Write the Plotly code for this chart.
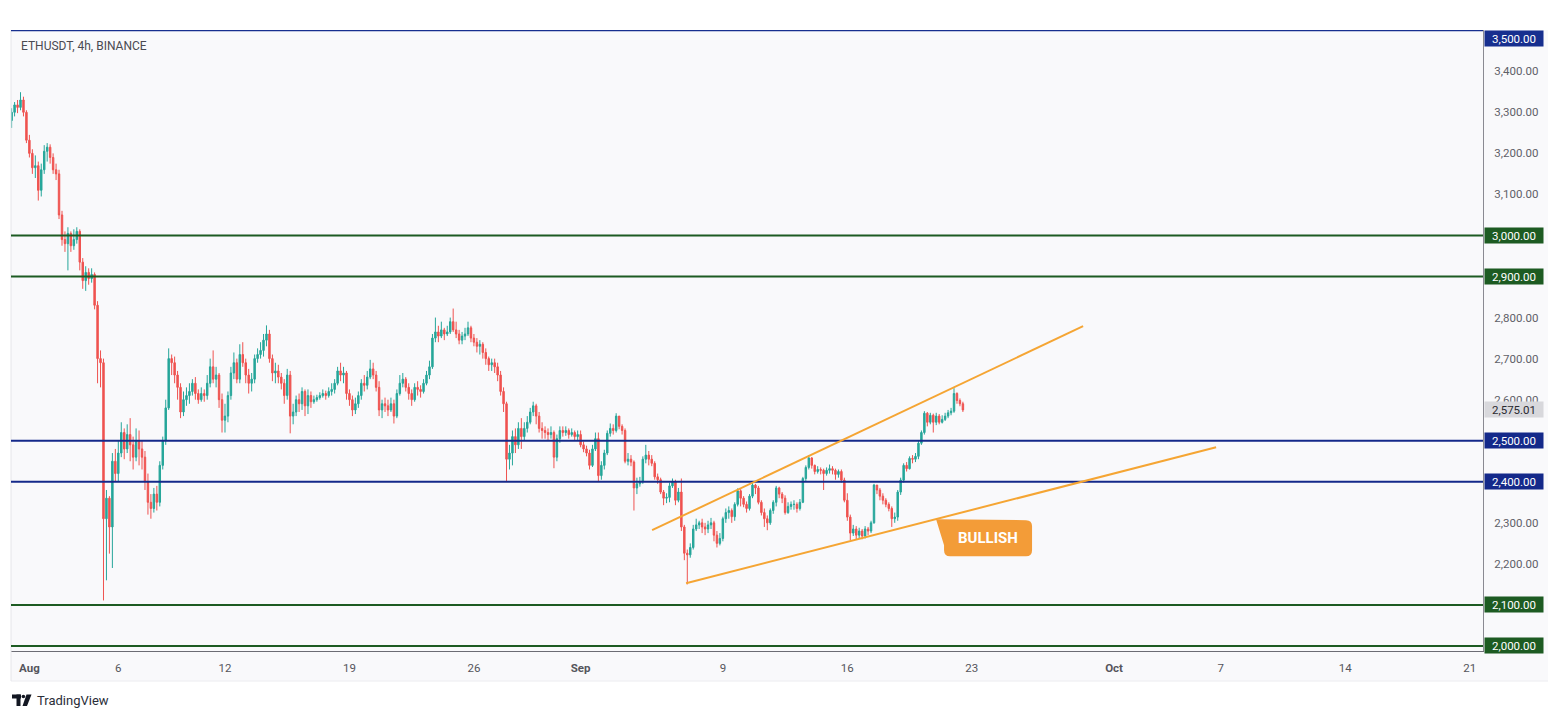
import plotly.graph_objects as go
import pandas as pd

# ---------------- data ----------------
chart_title = "ETHUSDT, 4h, BINANCE"
start_time = "2024-07-31 00:00"   # first 4h candle
first_open = 3280

# 4h closes, one row per day (00,04,08,12,16,20 UTC)
closes = [
    3300, 3318, 3312, 3330, 3300, 3232,   # Jul 31
    3200, 3165, 3170, 3110, 3160, 3205,   # Aug 1
    3215, 3190, 3160, 3150, 3050, 2990,   # Aug 2
    2980, 3005, 2975, 2990, 3010, 2935,   # Aug 3
    2890, 2910, 2895, 2905, 2830, 2700,   # Aug 4
    2690, 2310, 2360, 2290, 2450, 2420,   # Aug 5
    2470, 2520, 2480, 2515, 2490, 2460,   # Aug 6
    2500, 2480, 2460, 2400, 2350, 2335,   # Aug 7
    2370, 2350, 2440, 2500, 2580, 2700,   # Aug 8
    2690, 2660, 2630, 2570, 2600, 2610,   # Aug 9
    2620, 2640, 2615, 2600, 2615, 2610,   # Aug 10
    2640, 2680, 2650, 2660, 2600, 2550,   # Aug 11
    2560, 2610, 2665, 2690, 2650, 2710,   # Aug 12
    2690, 2660, 2640, 2650, 2700, 2710,   # Aug 13
    2720, 2745, 2760, 2700, 2665, 2670,   # Aug 14
    2655, 2640, 2610, 2660, 2560, 2570,   # Aug 15
    2600, 2590, 2620, 2585, 2610, 2595,   # Aug 16
    2600, 2605, 2610, 2615, 2610, 2620,   # Aug 17
    2625, 2640, 2670, 2660, 2665, 2615,   # Aug 18
    2600, 2575, 2590, 2610, 2640, 2635,   # Aug 19
    2655, 2675, 2660, 2630, 2575, 2590,   # Aug 20
    2585, 2575, 2590, 2560, 2615, 2640,   # Aug 21
    2650, 2630, 2615, 2600, 2630, 2625,   # Aug 22
    2620, 2640, 2660, 2680, 2750, 2765,   # Aug 23
    2755, 2770, 2760, 2765, 2790, 2770,   # Aug 24
    2760, 2745, 2755, 2760, 2775, 2750,   # Aug 25
    2740, 2730, 2735, 2715, 2700, 2685,   # Aug 26
    2690, 2680, 2660, 2620, 2590, 2455,   # Aug 27
    2470, 2510, 2490, 2530, 2510, 2530,   # Aug 28
    2545, 2570, 2585, 2560, 2530, 2525,   # Aug 29
    2520, 2515, 2520, 2460, 2505, 2525,   # Aug 30
    2520, 2525, 2515, 2520, 2510, 2515,   # Aug 31
    2490, 2480, 2470, 2440, 2480, 2505,   # Sep 1
    2415, 2440, 2470, 2518, 2530, 2525,   # Sep 2
    2560, 2535, 2525, 2450, 2455, 2448,   # Sep 3
    2385, 2395, 2400, 2455, 2465, 2455,   # Sep 4
    2445, 2412, 2405, 2375, 2360, 2362,   # Sep 5
    2390, 2400, 2355, 2375, 2290, 2226,   # Sep 6
    2222, 2240, 2285, 2295, 2300, 2290,   # Sep 7
    2285, 2295, 2300, 2270, 2250, 2262,   # Sep 8
    2310, 2325, 2330, 2315, 2345, 2378,   # Sep 9
    2360, 2345, 2335, 2365, 2392, 2385,   # Sep 10
    2350, 2325, 2310, 2300, 2330, 2350,   # Sep 11
    2385, 2370, 2360, 2325, 2340, 2345,   # Sep 12
    2345, 2335, 2350, 2408, 2435, 2458,   # Sep 13
    2440, 2425, 2430, 2428, 2420, 2428,   # Sep 14
    2432, 2428, 2418, 2425, 2404, 2355,   # Sep 15
    2314, 2275, 2285, 2270, 2280, 2268,   # Sep 16
    2285, 2280, 2300, 2392, 2380, 2365,   # Sep 17
    2355, 2345, 2335, 2310, 2314, 2375,   # Sep 18
    2404, 2440, 2432, 2457, 2455, 2462,   # Sep 19
    2494, 2520, 2567, 2545, 2562, 2545,   # Sep 20
    2560, 2545, 2552, 2560, 2568, 2572,   # Sep 21
    2615, 2598, 2590, 2575.01,            # Sep 22
]

highs = [
    3310, 3325, 3330, 3349, 3338, 3305,
    3245, 3210, 3195, 3180, 3175, 3220,
    3225, 3222, 3200, 3175, 3160, 3060,
    3010, 3020, 3010, 3015, 3020, 3015,
    2945, 2925, 2920, 2920, 2910, 2840,
    2720, 2700, 2380, 2365, 2470, 2480,
    2500, 2545, 2530, 2540, 2555, 2510,
    2530, 2525, 2500, 2475, 2420, 2370,
    2385, 2390, 2450, 2510, 2600, 2725,
    2710, 2705, 2670, 2640, 2620, 2630,
    2640, 2650, 2655, 2625, 2630, 2625,
    2660, 2700, 2720, 2680, 2665, 2615,
    2590, 2620, 2680, 2715, 2700, 2735,
    2740, 2700, 2675, 2665, 2710, 2725,
    2740, 2760, 2781, 2770, 2710, 2690,
    2685, 2665, 2650, 2675, 2670, 2590,
    2610, 2615, 2630, 2625, 2625, 2620,
    2610, 2612, 2618, 2625, 2622, 2630,
    2640, 2650, 2680, 2690, 2680, 2670,
    2625, 2610, 2605, 2620, 2650, 2660,
    2670, 2697, 2690, 2670, 2645, 2600,
    2605, 2600, 2605, 2600, 2625, 2660,
    2665, 2655, 2640, 2625, 2640, 2645,
    2635, 2650, 2670, 2695, 2760, 2800,
    2780, 2790, 2775, 2780, 2800, 2822,
    2790, 2770, 2765, 2775, 2790, 2780,
    2760, 2750, 2745, 2740, 2725, 2705,
    2700, 2700, 2690, 2670, 2630, 2595,
    2490, 2525, 2530, 2545, 2555, 2545,
    2560, 2580, 2595, 2590, 2570, 2545,
    2535, 2530, 2535, 2525, 2515, 2535,
    2535, 2535, 2530, 2530, 2525, 2525,
    2525, 2498, 2488, 2478, 2490, 2520,
    2520, 2450, 2478, 2525, 2542, 2540,
    2567, 2560, 2540, 2530, 2470, 2465,
    2452, 2410, 2412, 2462, 2490, 2475,
    2465, 2450, 2420, 2410, 2380, 2372,
    2398, 2408, 2405, 2385, 2408, 2295,
    2235, 2250, 2295, 2310, 2305, 2310,
    2300, 2305, 2312, 2305, 2280, 2275,
    2315, 2335, 2340, 2335, 2350, 2384,
    2382, 2365, 2352, 2370, 2400, 2395,
    2390, 2355, 2335, 2318, 2335, 2355,
    2390, 2388, 2375, 2367, 2350, 2352,
    2355, 2350, 2358, 2412, 2440, 2465,
    2460, 2442, 2438, 2435, 2432, 2435,
    2442, 2438, 2432, 2430, 2430, 2410,
    2372, 2320, 2295, 2292, 2288, 2285,
    2292, 2290, 2305, 2395, 2392, 2385,
    2372, 2360, 2350, 2340, 2325, 2380,
    2410, 2445, 2448, 2462, 2465, 2470,
    2500, 2525, 2572, 2570, 2568, 2566,
    2568, 2565, 2562, 2568, 2575, 2580,
    2628, 2618, 2603, 2595,
]

lows = [
    3262, 3290, 3298, 3305, 3290, 3225,
    3190, 3150, 3140, 3085, 3095, 3150,
    3180, 3175, 3150, 3135, 3040, 2975,
    2960, 2915, 2960, 2965, 2980, 2915,
    2870, 2865, 2880, 2885, 2820, 2640,
    2630, 2111, 2160, 2225, 2190, 2400,
    2400, 2460, 2455, 2470, 2450, 2430,
    2450, 2440, 2430, 2380, 2320, 2310,
    2325, 2330, 2340, 2430, 2490, 2575,
    2660, 2640, 2600, 2555, 2560, 2585,
    2590, 2610, 2600, 2590, 2595, 2595,
    2600, 2630, 2640, 2630, 2580, 2520,
    2520, 2545, 2600, 2650, 2640, 2640,
    2680, 2640, 2615, 2620, 2640, 2690,
    2700, 2705, 2730, 2690, 2645, 2640,
    2640, 2625, 2590, 2600, 2518, 2540,
    2560, 2570, 2575, 2560, 2565, 2580,
    2590, 2595, 2600, 2605, 2600, 2605,
    2610, 2615, 2635, 2645, 2640, 2600,
    2585, 2560, 2565, 2580, 2600, 2620,
    2625, 2650, 2650, 2620, 2560, 2555,
    2570, 2560, 2570, 2542, 2555, 2610,
    2630, 2620, 2600, 2585, 2595, 2610,
    2605, 2615, 2635, 2650, 2675, 2740,
    2740, 2750, 2745, 2755, 2760, 2765,
    2750, 2735, 2735, 2745, 2755, 2740,
    2730, 2715, 2710, 2700, 2685, 2670,
    2670, 2665, 2645, 2610, 2570, 2400,
    2430, 2440, 2470, 2480, 2480, 2500,
    2520, 2540, 2560, 2540, 2520, 2505,
    2505, 2500, 2505, 2433, 2450, 2495,
    2510, 2512, 2505, 2510, 2500, 2500,
    2484, 2472, 2462, 2430, 2436, 2475,
    2402, 2405, 2430, 2465, 2510, 2515,
    2520, 2528, 2515, 2445, 2440, 2438,
    2330, 2370, 2388, 2395, 2445, 2440,
    2438, 2405, 2395, 2370, 2343, 2348,
    2350, 2385, 2343, 2350, 2280, 2209,
    2150, 2215, 2235, 2280, 2285, 2275,
    2270, 2275, 2285, 2255, 2240, 2245,
    2255, 2300, 2310, 2300, 2305, 2340,
    2340, 2338, 2325, 2330, 2360, 2370,
    2345, 2318, 2290, 2282, 2295, 2322,
    2340, 2360, 2348, 2320, 2322, 2332,
    2332, 2325, 2330, 2348, 2400, 2430,
    2432, 2418, 2420, 2418, 2380, 2415,
    2420, 2418, 2405, 2410, 2398, 2350,
    2305, 2258, 2268, 2260, 2262, 2260,
    2262, 2270, 2275, 2298, 2370, 2355,
    2345, 2338, 2328, 2290, 2300, 2305,
    2368, 2398, 2425, 2430, 2445, 2448,
    2455, 2490, 2515, 2535, 2540, 2520,
    2538, 2540, 2542, 2548, 2555, 2562,
    2568, 2590, 2584, 2570,
]

# horizontal key levels
level_prices = [3500, 3000, 2900, 2500, 2400, 2100, 2000]
level_colors = ["#172f8f", "#1d5b22", "#1d5b22", "#14298a", "#14298a", "#1d5b22", "#1d5b22"]

# plain price-axis ticks
ytick_vals = [2200, 2300, 2600, 2700, 2800, 3100, 3200, 3300, 3400]

# time-axis ticks
xtick_dates = ["2024-08-01", "2024-08-06", "2024-08-12", "2024-08-19", "2024-08-26",
               "2024-09-01", "2024-09-09", "2024-09-16", "2024-09-23",
               "2024-10-01", "2024-10-07", "2024-10-14", "2024-10-21"]
xtick_labels = ["<b>Aug</b>", "6", "12", "19", "26", "<b>Sep</b>", "9", "16", "23",
                "<b>Oct</b>", "7", "14", "21"]

# drawn trend lines (wedge)
upper_line_x = ["2024-09-05 00:30", "2024-09-29 06:15"]
upper_line_y = [2282, 2779]
lower_line_x = ["2024-09-06 22:20", "2024-10-06 17:45"]
lower_line_y = [2153, 2484]

# callout
callout_text = "BULLISH"
callout_x = "2024-09-20 23:45"
callout_y = 2309

# ---------------- build ----------------
times = pd.date_range(start_time, periods=len(closes), freq="4h")
opens = [first_open] + closes[:-1]
highs = [max(h, o, c) for h, o, c in zip(highs, opens, closes)]
lows = [min(l, o, c) for l, o, c in zip(lows, opens, closes)]
last_price = closes[-1]

UP = "#26a69a"
DOWN = "#ef5350"
ORANGE = "#f5a533"
BG = "#f9f9fb"
FONT = "Roboto"

W, H = 1560, 719
L, R, T, B = 11, 77, 30, 68
PX0, PX1, PY0, PY1 = L, W - R, T, H - B


def px(xp):
    return (xp - PX0) / (PX1 - PX0)


def py(yp):
    return (PY1 - yp) / (PY1 - PY0)


fig = go.Figure()
fig.add_trace(go.Candlestick(
    x=times, open=opens, high=highs, low=lows, close=closes,
    increasing=dict(line=dict(color=UP, width=1), fillcolor=UP),
    decreasing=dict(line=dict(color=DOWN, width=1), fillcolor=DOWN),
    whiskerwidth=0, showlegend=False, hoverinfo="skip",
))

shapes = []
# axis strips (right and bottom)
shapes.append(dict(type="rect", xref="paper", yref="paper", x0=px(PX1), x1=px(1548),
                   y0=py(681), y1=py(PY0), fillcolor=BG, line=dict(width=0), layer="below"))
shapes.append(dict(type="rect", xref="paper", yref="paper", x0=px(PX0), x1=px(1548),
                   y0=py(681), y1=py(PY1), fillcolor=BG, line=dict(width=0), layer="below"))
shapes.append(dict(type="line", xref="paper", yref="paper", x0=px(PX0), x1=px(1548),
                   y0=py(681), y1=py(681), line=dict(color="#ececf0", width=1)))
shapes.append(dict(type="line", xref="paper", yref="paper", x0=0, x1=0,
                   y0=py(681), y1=1, line=dict(color="#e6e6ea", width=1)))

for p, c in zip(level_prices, level_colors):
    shapes.append(dict(type="line", xref="paper", yref="y", x0=0, x1=1, y0=p, y1=p,
                       line=dict(color=c, width=2), layer="above"))

shapes.append(dict(type="line", xref="x", yref="y", x0=upper_line_x[0], x1=upper_line_x[1],
                   y0=upper_line_y[0], y1=upper_line_y[1], line=dict(color=ORANGE, width=2)))
shapes.append(dict(type="line", xref="x", yref="y", x0=lower_line_x[0], x1=lower_line_x[1],
                   y0=lower_line_y[0], y1=lower_line_y[1], line=dict(color=ORANGE, width=2)))

# callout bubble (pixel path relative to its tip)
bubble = "M 0,0 L 90,-1 Q 96,-1 96,-7 L 96,-31 Q 96,-37 90,-37 L 14,-37 Q 8,-37 8,-31 L 8,-26 Z"
shapes.append(dict(type="path", xref="x", yref="y", xsizemode="pixel", ysizemode="pixel",
                   xanchor=callout_x, yanchor=callout_y, path=bubble,
                   fillcolor="#f39c38", line=dict(width=0), layer="above"))

# TradingView logo glyph
def rect_px(x0, y0, x1, y1):
    return dict(type="rect", xref="paper", yref="paper", x0=px(x0), x1=px(x1),
                y0=py(y1), y1=py(y0), fillcolor="#131722", line=dict(width=0))

shapes.append(rect_px(12, 694.5, 21, 698.5))
shapes.append(rect_px(16.5, 694.5, 20.5, 706))
shapes.append(dict(type="circle", xref="paper", yref="paper", x0=px(21.6), x1=px(25.2),
                   y0=py(698.3), y1=py(694.7), fillcolor="#131722", line=dict(width=0)))
shapes.append(dict(type="path", xref="paper", yref="paper",
                   path=f"M {px(26.5)},{py(694.5)} L {px(31.5)},{py(694.5)} L {px(27)},{py(706)} L {px(22.5)},{py(706)} Z",
                   fillcolor="#131722", line=dict(width=0)))

annotations = []
annotations.append(dict(xref="paper", yref="paper", x=px(19), y=py(46), xanchor="left", yanchor="middle",
                        text=chart_title, showarrow=False, font=dict(family=FONT, size=12, color="#4a4a52")))
annotations.append(dict(xref="paper", yref="paper", x=px(35), y=py(700.5), xanchor="left", yanchor="middle",
                        text="TradingView", showarrow=False, font=dict(family=FONT, size=13, color="#2a2e39")))

for p, c in zip(level_prices, level_colors):
    annotations.append(dict(xref="paper", yref="y", x=1, y=p, xanchor="left", xshift=1,
                            yanchor="top" if p == max(level_prices) else "middle",
                            text=f"{p:,.2f}", showarrow=False, width=56, height=13, borderpad=1,
                            bgcolor=c, font=dict(family=FONT, size=11.5, color="white")))
annotations.append(dict(xref="paper", yref="y", x=1, y=last_price, xanchor="left", xshift=1,
                        yanchor="middle", text=f"{last_price:,.2f}", showarrow=False, width=56,
                        height=13, borderpad=1, bgcolor="#d8d8dc",
                        font=dict(family=FONT, size=11.5, color="#2a2a30")))

annotations.append(dict(xref="x", yref="y", x=callout_x, y=callout_y, xshift=52, yshift=-19,
                        text=f"<b>{callout_text}</b>", showarrow=False,
                        font=dict(family=FONT, size=15, color="white")))

fig.update_layout(
    width=W, height=H, autosize=False,
    margin=dict(l=L, r=R, t=T, b=B, pad=0),
    paper_bgcolor="white", plot_bgcolor=BG,
    font=dict(family=FONT, size=11, color="#555"),
    shapes=shapes, annotations=annotations,
    hovermode=False,
    xaxis=dict(type="date", range=["2024-07-30 23:10", "2024-10-21 18:00"],
               rangeslider=dict(visible=False), showgrid=False, zeroline=False,
               showline=True, linecolor="#6c6c74", linewidth=1, ticks="",
               tickvals=xtick_dates, ticktext=xtick_labels, ticklabelstandoff=6,
               tickfont=dict(family=FONT, size=11.5, color="#55555c"), fixedrange=True),
    yaxis=dict(side="right", range=[1987.8, 3500.5], showgrid=False, zeroline=False,
               showline=True, linecolor="#8a8a92", linewidth=1, ticks="",
               tickvals=ytick_vals, tickformat=",.2f", ticklabelstandoff=8,
               tickfont=dict(family=FONT, size=11.5, color="#606068"), fixedrange=True),
)

fig.write_html("out.html", config={"displayModeBar": False},
               post_script="document.body.style.margin='0px';document.body.style.overflow='hidden';")
